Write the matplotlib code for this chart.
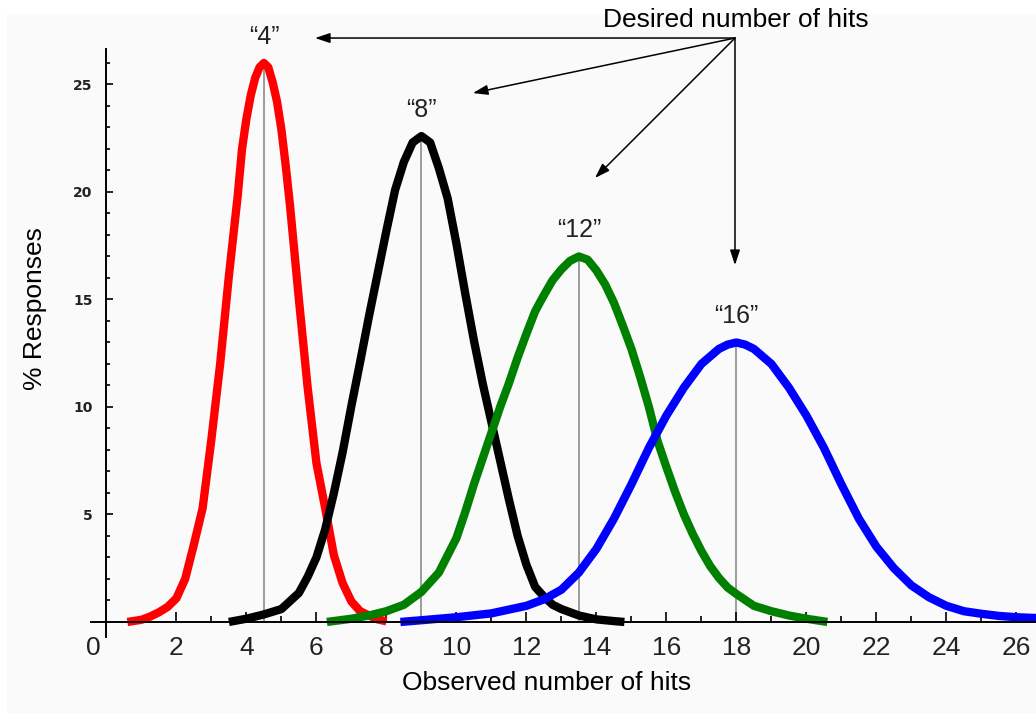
import matplotlib
matplotlib.use('Agg')
import matplotlib.pyplot as plt
import numpy as np
from matplotlib.patches import Rectangle

# values
red_x = [0.6, 1.0, 1.25, 1.5, 1.75, 2.0, 2.25, 2.5, 2.75, 3.0, 3.25, 3.5, 3.75, 3.875, 4.0, 4.125,
         4.25, 4.375, 4.5, 4.625, 4.75, 4.875, 5.0, 5.125, 5.25, 5.5, 5.75, 6.0, 6.25, 6.5,
         6.75, 7.0, 7.25, 7.5, 7.75, 8.0]
red_y = [0, 0.1, 0.25, 0.45, 0.7, 1.1, 2.0, 3.6, 5.3, 8.5, 12.0, 16.1, 19.8, 22.0, 23.4, 24.5,
         25.3, 25.8, 26.0, 25.8, 25.1, 24.2, 22.9, 21.2, 19.3, 15.0, 10.9, 7.4, 5.3, 3.1,
         1.8, 0.95, 0.5, 0.3, 0.12, 0.03]

black_x = [3.5, 4.0, 4.5, 5.0, 5.5, 5.75, 6.0, 6.25, 6.5, 6.75, 7.0, 7.25, 7.5, 7.75, 8.0, 8.25,
           8.5, 8.75, 9.0, 9.25, 9.5, 9.75, 10.0, 10.25, 10.5, 10.75, 11.0, 11.25, 11.5, 11.75,
           12.0, 12.25, 12.5, 12.75, 13.0, 13.5, 14.0, 14.5, 14.8]
black_y = [0, 0.15, 0.35, 0.6, 1.35, 2.1, 3.0, 4.3, 6.0, 7.9, 10.05, 12.1, 14.2, 16.2, 18.2, 20.1,
           21.4, 22.3, 22.6, 22.3, 21.1, 19.7, 17.6, 15.3, 13.1, 11.1, 9.3, 7.5, 5.7, 4.0,
           2.66, 1.63, 1.18, 0.8, 0.6, 0.3, 0.12, 0.04, 0]

green_x = [6.3, 7.0, 7.5, 8.0, 8.5, 9.0, 9.5, 10.0, 10.25, 10.5, 10.75, 11.0, 11.25, 11.5, 11.75,
           12.0, 12.25, 12.5, 12.75, 13.0, 13.25, 13.5, 13.75, 14.0, 14.25, 14.5, 14.75, 15.0,
           15.25, 15.5, 15.75, 16.0, 16.25, 16.5, 16.75, 17.0, 17.25, 17.5, 17.75, 18.0, 18.5,
           19.0, 19.5, 20.0, 20.6]
green_y = [0, 0.15, 0.3, 0.5, 0.8, 1.4, 2.3, 3.9, 5.1, 6.4, 7.6, 8.8, 10.0, 11.1, 12.3,
           13.4, 14.45, 15.2, 15.9, 16.4, 16.8, 17.0, 16.85, 16.35, 15.7, 14.85, 13.8, 12.7,
           11.4, 10.0, 8.4, 7.2, 6.05, 5.0, 4.1, 3.3, 2.6, 2.05, 1.6, 1.3, 0.75,
           0.5, 0.3, 0.15, 0]

blue_x = [8.4, 9.0, 10.0, 11.0, 12.0, 12.5, 13.0, 13.5, 14.0, 14.5, 15.0, 15.5, 16.0, 16.5, 16.75,
          17.0, 17.25, 17.5, 17.75, 18.0, 18.25, 18.5, 18.75, 19.0, 19.25, 19.5, 20.0, 20.5,
          21.0, 21.5, 22.0, 22.5, 23.0, 23.5, 24.0, 24.5, 25.0, 25.5, 26.0, 26.6]
blue_y = [0, 0.08, 0.22, 0.4, 0.75, 1.05, 1.5, 2.3, 3.4, 4.8, 6.4, 8.1, 9.6, 10.9, 11.45,
          12.0, 12.35, 12.7, 12.9, 13.0, 12.9, 12.7, 12.35, 12.0, 11.45, 10.9, 9.6, 8.1,
          6.4, 4.8, 3.5, 2.5, 1.7, 1.15, 0.75, 0.5, 0.38, 0.28, 0.22, 0.18]

curve_labels = ['\u201c4\u201d', '\u201c8\u201d', '\u201c12\u201d', '\u201c16\u201d']
colors = ['#ff0000', '#000000', '#008000', '#0000ff']

x_major = list(range(2, 27, 2))
x_minor = list(range(1, 27, 2))
y_major = [5, 10, 15, 20, 25]
y_minor = list(range(1, 27))

# annotation arrows: start point and tips
arrow_from = (17.96, 27.16)
arrow_tips = [(5.96, 27.16), (10.47, 24.6), (13.96, 20.65), (17.96, 16.6)]

W, H = 1036, 713
fig = plt.figure(figsize=(W / 100, H / 100), dpi=100)
fig.patch.set_facecolor('white')
fig.patches.append(Rectangle((7 / W, 0), 1, 1 - 14 / H, transform=fig.transFigure,
                             facecolor='#fafafa', edgecolor='none', zorder=-10))

ax = fig.add_axes([91 / W, 76 / H, 945 / W, 588 / H])
ax.set_facecolor('none')
ax.set_xlim(-0.44, 26.56)
ax.set_ylim(-0.7, 26.65)

for s in ['top', 'right']:
    ax.spines[s].set_visible(False)
ax.spines['left'].set_position(('data', 0))
ax.spines['bottom'].set_position(('data', 0))
ax.spines['left'].set_linewidth(1.4)
ax.spines['bottom'].set_linewidth(1.4)

series = [(red_x, red_y), (black_x, black_y), (green_x, green_y), (blue_x, blue_y)]

# thin grey lines from axis up to each peak
for xs, ys in series:
    i = int(np.argmax(ys))
    ax.vlines(xs[i], 0, ys[i], color='#8c8c8c', lw=1.2, zorder=1)

for (xs, ys), c in zip(series, colors):
    ax.plot(xs, ys, color=c, lw=6, solid_capstyle='butt', solid_joinstyle='round', zorder=2)

for (xs, ys), lab in zip(series, curve_labels):
    i = int(np.argmax(ys))
    ax.annotate(lab, xy=(xs[i], ys[i]), xytext=(0, 14), textcoords='offset points',
                ha='center', va='baseline', fontsize=18, color='#222222',
                family=['Liberation Sans', 'DejaVu Sans'])

for tip in arrow_tips:
    ax.annotate('', xy=tip, xytext=arrow_from, annotation_clip=False,
                arrowprops=dict(arrowstyle='-|>,head_length=0.9,head_width=0.3',
                                color='black', lw=1.1, shrinkA=0, shrinkB=0))

ax.set_xticks(x_major, labels=[str(v) for v in x_major], fontsize=19,
              family=['Liberation Sans Narrow', 'Liberation Sans'], color='#222222')
ax.set_xticks(x_minor, minor=True)
ax.set_yticks(y_major, labels=[str(v) for v in y_major], fontsize=10, fontweight='bold',
              family='DejaVu Sans', color='#222222')
ax.set_yticks(y_minor, minor=True)

ax.tick_params(axis='x', which='major', direction='in', length=7.5, width=1.2, pad=10)
ax.tick_params(axis='x', which='minor', direction='in', length=4.5, width=1.2)
ax.tick_params(axis='y', which='major', direction='in', length=5, width=1.2, pad=10)
ax.tick_params(axis='y', which='minor', direction='in', length=3, width=1.2)

ax.annotate('0', xy=(0, 0), xytext=(-9.7, -10), textcoords='offset points',
            ha='center', va='top', fontsize=19, color='#222222',
            family=['Liberation Sans Narrow', 'Liberation Sans'])

fig.text(547 / W, 1 - 683 / H, 'Observed number of hits', ha='center', va='center',
         fontsize=19, family=['Liberation Sans', 'DejaVu Sans'])
fig.text(35 / W, 1 - 309 / H, '% Responses', ha='center', va='center', rotation=90,
         fontsize=19, family=['Liberation Sans', 'DejaVu Sans'])
fig.text(736 / W, 1 - 20 / H, 'Desired number of hits', ha='center', va='center',
         fontsize=19, family=['Liberation Sans', 'DejaVu Sans'])

fig.savefig('out.png', dpi=100)
